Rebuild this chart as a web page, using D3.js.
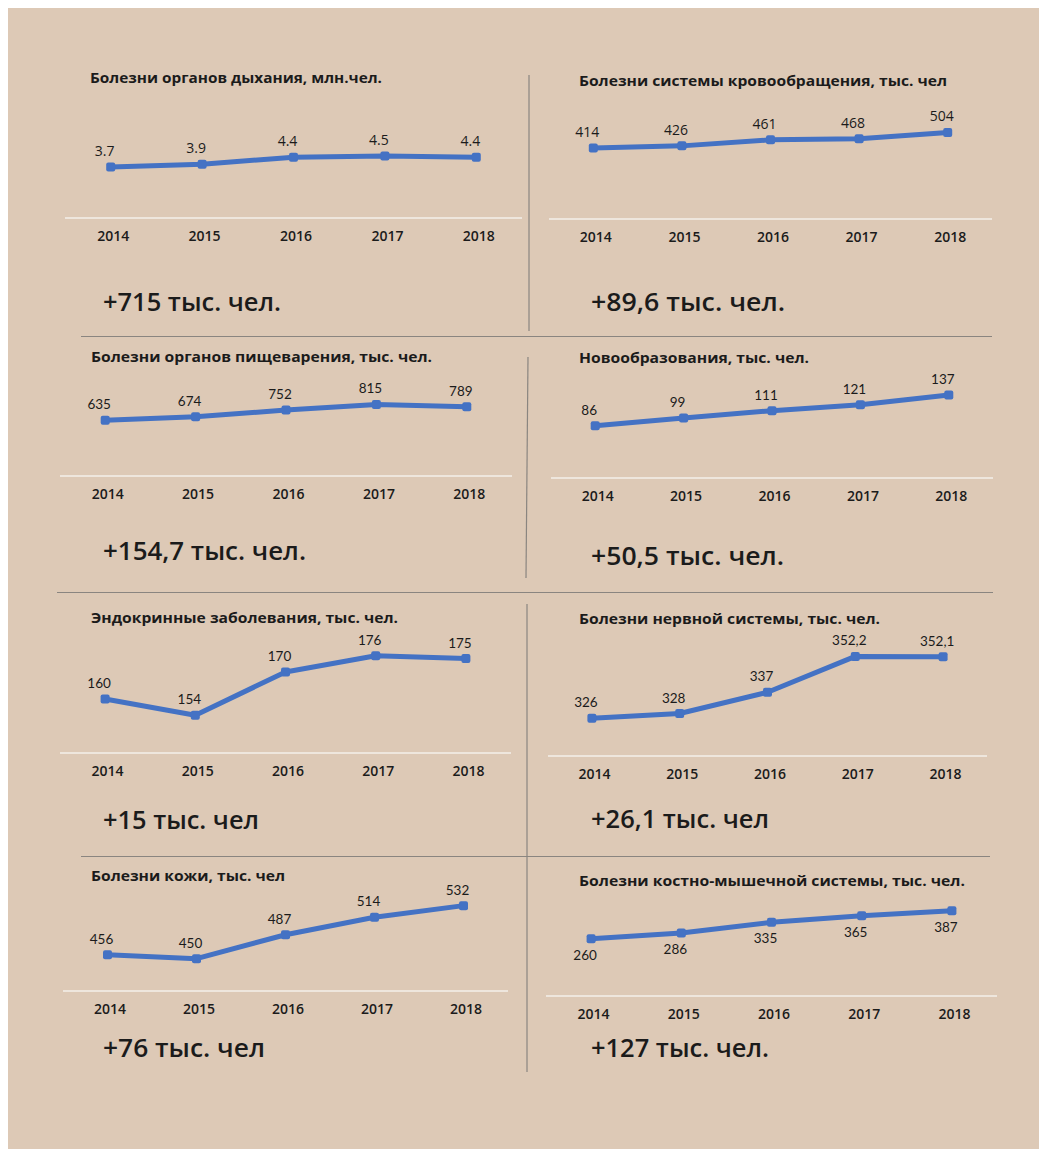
<!DOCTYPE html>
<html>
<head>
<meta charset="utf-8">
<script src="https://cdn.jsdelivr.net/npm/d3@7"></script>
<style>
  body { margin: 0; background: #fff; }
  svg text { font-family: "Open Sans", "Noto Sans", sans-serif; fill: #1b1b1b; }
</style>
</head>
<body>
<svg id="chart" width="1039" height="1149"></svg>
<script>
// data
var years = ["2014", "2015", "2016", "2017", "2018"];

var titles = [
  "Болезни органов дыхания, млн.чел.",
  "Болезни системы кровообращения, тыс. чел",
  "Болезни органов пищеварения, тыс. чел.",
  "Новообразования, тыс. чел.",
  "Эндокринные заболевания, тыс. чел.",
  "Болезни нервной системы, тыс. чел.",
  "Болезни кожи, тыс. чел",
  "Болезни костно-мышечной системы, тыс. чел."
];

var respiratory = [3.7, 3.9, 4.4, 4.5, 4.4];
var circulatory = [414, 426, 461, 468, 504];
var digestive = [635, 674, 752, 815, 789];
var neoplasms = [86, 99, 111, 121, 137];
var endocrine = [160, 154, 170, 176, 175];
var nervous = [326, 328, 337, 352.2, 352.1];
var skin = [456, 450, 487, 514, 532];
var musculo = [260, 286, 335, 365, 387];

var seriesValues = [respiratory, circulatory, digestive, neoplasms, endocrine, nervous, skin, musculo];

var valueLabels = [
  ["3.7", "3.9", "4.4", "4.5", "4.4"],
  ["414", "426", "461", "468", "504"],
  ["635", "674", "752", "815", "789"],
  ["86", "99", "111", "121", "137"],
  ["160", "154", "170", "176", "175"],
  ["326", "328", "337", "352,2", "352,1"],
  ["456", "450", "487", "514", "532"],
  ["260", "286", "335", "365", "387"]
];

var growth = [
  "+715 тыс. чел.",
  "+89,6 тыс. чел.",
  "+154,7 тыс. чел.",
  "+50,5 тыс. чел.",
  "+15 тыс. чел",
  "+26,1 тыс. чел",
  "+76 тыс. чел",
  "+127 тыс. чел."
];

// value axis ranges (hidden axes)
var yDomains = [[0, 5], [0, 600], [0, 900], [0, 160], [140, 180], [310, 360], [400, 550], [0, 450]];

// layout of each panel
var panels = [
  {x0: 65,  x1: 522, base: 218, top: 149, titleX: 90,  titleY: 83,  titleW: 292, bigY: 311, bigW: 178, labFont: "Open Sans", below: false},
  {x0: 549, x1: 992, base: 219, top: 116, titleX: 579, titleY: 86,  titleW: 368, bigY: 311, bigW: 194, labFont: "Open Sans", below: false},
  {x0: 60,  x1: 512, base: 476, top: 397, titleX: 91,  titleY: 362, titleW: 341, bigY: 560, bigW: 203, labFont: "Lato", below: false},
  {x0: 551, x1: 993, base: 478, top: 381, titleX: 579, titleY: 363, titleW: 230, bigY: 565, bigW: 193, labFont: "Lato", below: false},
  {x0: 60,  x1: 511, base: 753, top: 645, titleX: 91,  titleY: 623, titleW: 307, bigY: 829, bigW: 156, labFont: "Lato", below: false},
  {x0: 548, x1: 987, base: 756, top: 638, titleX: 579, titleY: 624, titleW: 301, bigY: 828, bigW: 178, labFont: "Lato", below: false},
  {x0: 63,  x1: 508, base: 991, top: 894, titleX: 91,  titleY: 881, titleW: 194, bigY: 1057, bigW: 162, labFont: "Lato", below: false},
  {x0: 546, x1: 997, base: 996, top: 897, titleX: 579, titleY: 886, titleW: 386, bigY: 1057, bigW: 178, labFont: "Lato", below: true}
];

var svg = d3.select("#chart");

// background
svg.append("rect")
  .attr("x", 8).attr("y", 8)
  .attr("width", 1031).attr("height", 1141)
  .attr("fill", "#DDC9B6");

// grey separators
var sep = svg.append("g").attr("stroke", "#8a8580").attr("stroke-width", 1.2);
sep.append("line").attr("x1", 81).attr("x2", 992).attr("y1", 336.5).attr("y2", 336.5);
sep.append("line").attr("x1", 57).attr("x2", 993).attr("y1", 592.5).attr("y2", 592.5);
sep.append("line").attr("x1", 81).attr("x2", 990).attr("y1", 856.5).attr("y2", 856.5);
sep.append("line").attr("x1", 529).attr("x2", 529).attr("y1", 75).attr("y2", 331);
sep.append("line").attr("x1", 528).attr("x2", 526).attr("y1", 357).attr("y2", 578);
sep.append("line").attr("x1", 527).attr("x2", 527).attr("y1", 604).attr("y2", 1072);

panels.forEach(function(p, i) {
  var vals = seriesValues[i];
  var x = d3.scalePoint().domain(years).range([p.x0, p.x1]).padding(0.5);
  var y = d3.scaleLinear().domain(yDomains[i]).range([p.base, p.top]);
  var g = svg.append("g");

  // title
  g.append("text")
    .attr("x", p.titleX).attr("y", p.titleY)
    .attr("font-size", 13.5).attr("font-weight", 700)
    .attr("textLength", p.titleW).attr("lengthAdjust", "spacingAndGlyphs")
    .text(titles[i]);

  // baseline
  g.append("line")
    .attr("x1", p.x0).attr("x2", p.x1)
    .attr("y1", p.base).attr("y2", p.base)
    .attr("stroke", "#f3efea").attr("stroke-width", 1.6);

  // year labels
  var xAxis = g.append("g")
    .attr("transform", "translate(2," + (p.base + 23) + ")")
    .call(d3.axisBottom(x).tickSize(0).tickPadding(0));
  xAxis.select(".domain").remove();
  xAxis.selectAll("text")
    .attr("y", 0).attr("dy", 0)
    .attr("font-size", 14).attr("font-weight", 600)
    .attr("fill", "#1b1b1b")
    .style("font-family", "'Open Sans', sans-serif");

  var pts = vals.map(function(v, k) { return {year: years[k], v: v, label: valueLabels[i][k]}; });

  // line
  g.append("path")
    .datum(pts)
    .attr("fill", "none")
    .attr("stroke", "#4472C4")
    .attr("stroke-width", 5)
    .attr("stroke-linejoin", "round")
    .attr("d", d3.line().x(function(d) { return x(d.year); }).y(function(d) { return y(d.v); }));

  // markers
  g.selectAll("rect.mk")
    .data(pts)
    .enter().append("rect")
    .attr("class", "mk")
    .attr("x", function(d) { return x(d.year) - 4.5; })
    .attr("y", function(d) { return y(d.v) - 4.5; })
    .attr("width", 9).attr("height", 9)
    .attr("rx", 2)
    .attr("fill", "#4472C4");

  // value labels
  g.selectAll("text.vl")
    .data(pts)
    .enter().append("text")
    .attr("class", "vl")
    .attr("x", function(d) { return x(d.year) - 6; })
    .attr("y", function(d) { return p.below ? y(d.v) + 21 : y(d.v) - 11; })
    .attr("text-anchor", "middle")
    .attr("font-size", p.labFont == "Lato" ? 13.5 : 14)
    .attr("font-weight", p.labFont == "Lato" ? 400 : 500)
    .style("font-family", p.labFont + ", sans-serif")
    .text(function(d) { return d.label; });

  // growth figure
  g.append("text")
    .attr("x", i % 2 == 0 ? 103 : 591).attr("y", p.bigY)
    .attr("font-size", 25).attr("font-weight", 600)
    .attr("textLength", p.bigW).attr("lengthAdjust", "spacingAndGlyphs")
    .text(growth[i]);
});
</script>
</body>
</html>
